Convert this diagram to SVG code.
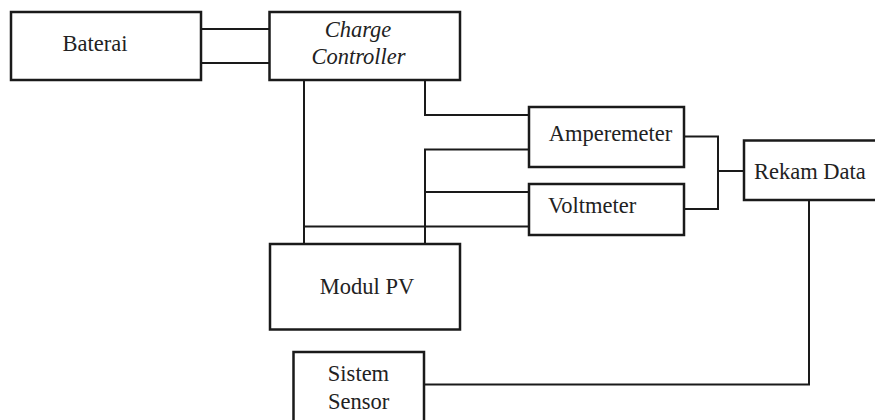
<svg xmlns="http://www.w3.org/2000/svg" width="875" height="420" viewBox="0 0 875 420">
<style>
.box{fill:#fff;stroke:#1a1a1a;stroke-width:2.5}
.ln{fill:none;stroke:#1a1a1a;stroke-width:2}
text{font-size:22.5px;fill:#222}
</style>
<rect width="875" height="420" fill="#fff"/>
<g id="connectors">
<path class="ln" d="M201,29H270M201,63H270"/>
<path class="ln" d="M304,80V244"/>
<path class="ln" d="M425,80V115H529"/>
<path class="ln" d="M425,244V149.5H529M425,192H529"/>
<path class="ln" d="M304,226.5H529"/>
<path class="ln" d="M684,136.5H718V209H684M718,171H744"/>
<path class="ln" d="M809,200V384.5H424"/>
</g>
<g font-family="Liberation Serif, Times New Roman, DejaVu Serif, serif">
<g id="baterai">
<rect class="box" x="11" y="12" width="190" height="68"/>
<text x="95" y="51" text-anchor="middle">Baterai</text>
</g>
<g id="charge-controller">
<rect class="box" x="269.5" y="12" width="190.5" height="68"/>
<text x="358" y="37" text-anchor="middle" font-style="italic">Charge</text>
<text x="358.5" y="63.5" text-anchor="middle" font-style="italic">Controller</text>
</g>
<g id="amperemeter">
<rect class="box" x="529" y="107" width="155" height="60"/>
<text x="610.5" y="141" text-anchor="middle">Amperemeter</text>
</g>
<g id="voltmeter">
<rect class="box" x="529" y="184" width="155" height="51"/>
<text x="548" y="213">Voltmeter</text>
</g>
<g id="rekam-data">
<rect class="box" x="744" y="140.5" width="140" height="59.5"/>
<text x="754" y="178.5">Rekam Data</text>
</g>
<g id="modul-pv">
<rect class="box" x="270" y="244" width="190" height="85.5"/>
<text x="367" y="294" text-anchor="middle">Modul PV</text>
</g>
<g id="sistem-sensor">
<rect class="box" x="293.5" y="352" width="130.5" height="80"/>
<text x="358.5" y="381" text-anchor="middle">Sistem</text>
<text x="358.5" y="408.5" text-anchor="middle">Sensor</text>
</g>
</g>
</svg>
